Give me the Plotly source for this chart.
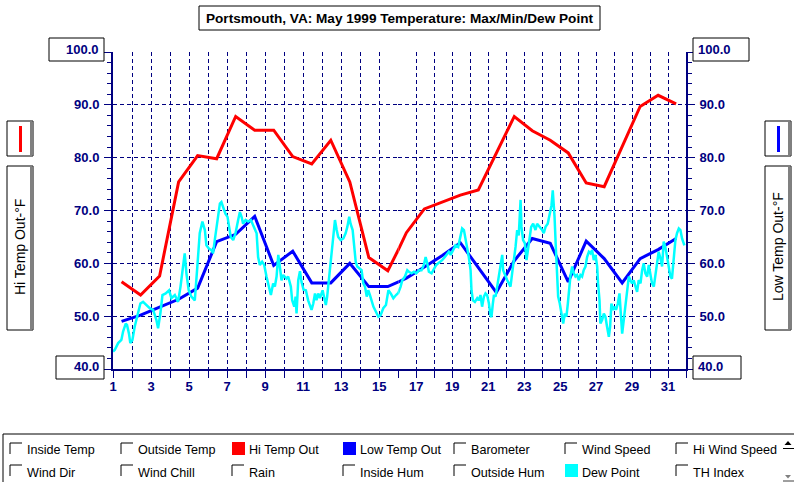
import plotly.graph_objects as go

# ---------------- data ----------------
days = list(range(1, 32))
hi_temp = [56.5, 54.0, 57.6, 75.4, 80.4, 79.8, 87.8, 85.2, 85.2, 80.2,
           78.8, 83.3, 75.4, 61.1, 58.6, 65.8, 70.3, 71.6, 72.9, 73.9,
           80.8, 87.8, 85.1, 83.3, 80.9, 75.2, 74.5, 82.1, 89.7, 91.8, 90.2]
low_temp = [49.0, 50.2, 51.7, 53.2, 55.3, 64.1, 65.5, 68.9, 59.6, 62.3,
            56.3, 56.3, 60.0, 55.6, 55.6, 57.2, 59.3, 61.5, 63.9, 59.2,
            54.5, 60.5, 64.7, 63.8, 56.5, 64.2, 60.9, 56.3, 60.9, 62.6, 64.7]
dew_day = [1.00, 1.09, 1.27, 1.44, 1.53, 1.67, 1.74, 1.84, 1.91, 2.02, 2.14, 2.32, 2.44, 2.58, 2.76, 2.93,
           3.11, 3.28, 3.37, 3.49, 3.60, 3.77, 3.95, 4.07, 4.25, 4.42, 4.55, 4.69, 4.77, 4.86, 4.98,
           5.12, 5.30, 5.42, 5.56, 5.70, 5.83, 5.91, 6.04, 6.18, 6.26, 6.35, 6.49, 6.62, 6.70, 6.79, 6.91,
           7.02, 7.09, 7.19, 7.32, 7.44, 7.58, 7.67, 7.76, 7.84, 7.97, 8.11, 8.25, 8.37, 8.46, 8.55,
           8.63, 8.72, 8.84, 8.95, 9.07, 9.16, 9.30, 9.42, 9.51, 9.60, 9.69, 9.77, 9.86, 9.95,
           10.12, 10.21, 10.35, 10.42, 10.53, 10.60, 10.65, 10.74, 10.83, 10.91, 11.02, 11.14, 11.26,
           11.44, 11.53, 11.62, 11.70, 11.79, 11.88, 12.02, 12.09, 12.19, 12.26, 12.37, 12.49, 12.58,
           12.67, 12.76, 12.84, 12.97, 13.11, 13.23, 13.32, 13.42, 13.49, 13.60, 13.67, 13.76, 13.84,
           13.95, 14.07, 14.16, 14.25, 14.34, 14.42, 14.51, 14.60, 14.69, 14.83, 14.95, 15.07, 15.21,
           15.35, 15.48, 15.60, 15.74, 15.88, 16.00, 16.13, 16.22, 16.37, 16.50, 16.59, 16.74, 16.87,
           17.00, 17.15, 17.29, 17.42, 17.52, 17.61, 17.70, 17.85, 17.98, 18.11, 18.22, 18.35, 18.44,
           18.59, 18.72, 18.81, 18.91, 19.00, 19.09, 19.18, 19.33, 19.46, 19.55, 19.65, 19.74, 19.83,
           19.92, 20.02, 20.07, 20.15, 20.26, 20.39, 20.48, 20.57, 20.66, 20.76, 20.85, 20.94, 21.04,
           21.12, 21.18, 21.26, 21.32, 21.41, 21.50, 21.59, 21.69, 21.78, 21.83, 21.96, 22.06, 22.15,
           22.24, 22.33, 22.43, 22.52, 22.61, 22.70, 22.80, 22.85, 22.94, 23.04, 23.13, 23.20, 23.31,
           23.39, 23.50, 23.63, 23.72, 23.87, 24.00, 24.09, 24.19, 24.31, 24.43, 24.52, 24.59, 24.69,
           24.76, 24.83, 24.89, 24.98, 25.07, 25.17, 25.26, 25.35, 25.43, 25.50, 25.57, 25.67, 25.76,
           25.85, 25.94, 26.04, 26.13, 26.22, 26.31, 26.41, 26.50, 26.60, 26.69, 26.78, 26.87, 26.97,
           27.06, 27.11, 27.19, 27.24, 27.34, 27.43, 27.52, 27.61, 27.71, 27.78, 27.85, 27.95, 28.04,
           28.11, 28.21, 28.30, 28.37, 28.45, 28.54, 28.63, 28.72, 28.82, 28.91, 29.00, 29.09, 29.19,
           29.28, 29.37, 29.47, 29.56, 29.65, 29.74, 29.84, 29.93, 30.02, 30.11, 30.21, 30.30, 30.39,
           30.48, 30.58, 30.67, 30.76, 30.85, 30.95, 31.04, 31.13, 31.22, 31.32, 31.41, 31.50, 31.60,
           31.69, 31.78, 31.91]
dew_val = [43.3, 43.6, 44.9, 45.5, 47.1, 48.6, 48.3, 46.7, 44.9, 45.5, 48.0, 50.5, 52.4, 52.7, 52.1, 51.5,
           51.2, 49.3, 47.7, 50.5, 54.0, 54.3, 54.9, 53.4, 54.0, 52.7, 55.6, 59.4, 61.9, 58.1, 54.9,
           53.7, 53.0, 58.7, 65.7, 67.9, 66.3, 63.4, 62.8, 62.5, 61.9, 64.4, 68.2, 71.3, 71.6, 70.7, 69.4,
           68.8, 66.9, 65.0, 64.4, 65.7, 68.2, 69.7, 68.8, 67.5, 68.2, 67.9, 68.2, 67.2, 66.3, 65.7,
           61.2, 59.7, 60.3, 59.7, 57.5, 56.2, 54.0, 56.2, 55.6, 57.5, 61.6, 59.4, 56.8, 57.8,
           57.1, 57.5, 55.6, 53.0, 51.8, 53.7, 50.5, 56.8, 58.5, 56.5, 55.0, 54.9, 53.0,
           51.2, 52.4, 54.3, 53.0, 54.3, 53.4, 54.9, 53.7, 52.1, 53.7, 57.5, 61.2, 63.8,
           68.2, 66.3, 65.0, 64.4, 64.7, 65.7, 66.9, 68.8, 67.5, 66.3, 63.1, 60.3, 59.4,
           59.0, 58.7, 56.2, 55.6, 53.7, 54.9, 54.0, 53.0, 51.8, 50.8, 49.9, 50.2, 51.5,
           52.1, 54.9, 54.3, 53.4, 54.0, 54.4, 55.6, 56.8, 57.5, 58.7, 58.4, 58.1, 58.4,
           58.1, 58.7, 58.7, 59.7, 61.2, 60.0, 58.4, 58.1, 59.0, 59.7, 60.0, 60.3, 60.6,
           61.2, 61.9, 62.2, 61.6, 62.2, 63.1, 63.4, 63.1, 65.3, 66.6, 66.3, 64.7, 63.1,
           61.2, 58.7, 54.9, 53.0, 52.7, 53.4, 53.0, 54.0, 51.8, 53.7, 54.3, 54.0, 52.4,
           50.3, 49.8, 52.4, 54.0, 53.7, 55.6, 56.8, 59.4, 61.6, 58.7, 57.5, 56.8, 56.2,
           55.6, 58.1, 60.6, 63.1, 66.3, 65.3, 72.0, 66.9, 64.4, 63.8, 60.6, 62.5, 64.4,
           66.9, 67.5, 66.3, 67.5, 66.9, 66.3, 65.7, 66.9, 67.5, 69.4, 71.0, 73.8, 68.8,
           63.1, 58.7, 53.7, 52.4, 50.5, 48.6, 50.5, 49.9, 52.4, 54.9, 57.5, 59.4, 58.1,
           57.5, 57.8, 56.8, 57.8, 57.5, 58.7, 59.4, 61.2, 62.2, 61.9, 62.5, 60.6, 61.6,
           59.4, 56.2, 53.0, 48.6, 49.3, 50.5, 49.9, 48.0, 46.1, 48.0, 52.4, 51.2, 51.8,
           51.2, 52.4, 54.3, 50.5, 46.7, 49.3, 51.8, 54.3, 57.5, 56.8, 56.2, 56.8, 55.6,
           54.6, 56.8, 56.2, 58.7, 60.0, 58.1, 57.5, 59.7, 57.5, 56.2, 55.6, 58.1, 60.6,
           62.2, 60.9, 59.4, 64.1, 63.1, 61.2, 59.4, 57.5, 57.1, 61.9, 64.4, 65.7, 66.6,
           66.3, 64.7, 63.4]
x_ticks = list(range(1, 33))
x_labels = [str(d) if d % 2 == 1 and d < 32 else "" for d in x_ticks]
y_ticks = [40, 50, 60, 70, 80, 90, 100]
y_labels = ["", "50.0", "60.0", "70.0", "80.0", "90.0", ""]
y_minor = [v for v in range(42, 100, 2) if v % 10 != 0]
title_text = "Portsmouth, VA: May 1999 Temperature: Max/Min/Dew Point"
left_label = "Hi Temp Out-°F"
right_label = "Low Temp Out-°F"
legend_row1 = ["Inside Temp", "Outside Temp", "Hi Temp Out", "Low Temp Out",
               "Barometer", "Wind Speed", "Hi Wind Speed"]
legend_row2 = ["Wind Dir", "Wind Chill", "Rain", "Inside Hum",
               "Outside Hum", "Dew Point", "TH Index"]
legend_colors = {"Hi Temp Out": "#FF0000", "Low Temp Out": "#0000FF", "Dew Point": "#00FFFF"}

# ---------------- layout helpers ----------------
W, H = 794, 482
L, R, T, B = 113, 686, 52, 369
SPLIT = 398.3           # pixel position of day 16 (grid is 19px/day left, 18px/day right)
NAVY = "#000080"
FONT = "Liberation Sans, Arial, sans-serif"


def px(x):
    return (x - L) / (R - L)


def py(y):
    return (B - y) / (B - T)


dsplit = px(SPLIT)
day_pos = [d + 0.45 for d in days]

fig = go.Figure()
series = [(day_pos, hi_temp, "#FF0000", 3),
          (day_pos, low_temp, "#0000FF", 3),
          (dew_day, dew_val, "#00FFFF", 2.5)]
for xa, ya in [("x", "y"), ("x2", "y2")]:
    for xs, ys, col, w in series:
        fig.add_trace(go.Scatter(x=xs, y=ys, mode="lines", xaxis=xa, yaxis=ya,
                                 line=dict(color=col, width=w), showlegend=False,
                                 hoverinfo="skip"))

tickfont = dict(family=FONT, size=13, color=NAVY, weight="bold")
common_x = dict(showline=True, linecolor=NAVY, linewidth=2, ticks="outside", ticklen=7,
                tickcolor=NAVY, tickwidth=1, showgrid=True, gridcolor=NAVY, gridwidth=1,
                griddash="4px,3px", zeroline=False, tickfont=tickfont, tickmode="array",
                fixedrange=True)
common_y = dict(showline=True, linecolor=NAVY, linewidth=2, ticks="outside", ticklen=7,
                tickcolor=NAVY, tickwidth=1, showgrid=True, gridcolor=NAVY, gridwidth=1,
                griddash="4px,3px", zeroline=False, tickfont=tickfont, tickmode="array",
                tickvals=y_ticks, ticktext=y_labels, range=[40, 100], domain=[0, 1],
                minor=dict(tickmode="array", tickvals=y_minor, ticks="outside", ticklen=4,
                           tickcolor=NAVY, showgrid=False),
                fixedrange=True)

fig.update_layout(
    width=W, height=H, autosize=False,
    margin=dict(l=L, r=W - R, t=T, b=H - B, pad=0),
    paper_bgcolor="white", plot_bgcolor="white",
    showlegend=False,
    xaxis=dict(domain=[0, dsplit], range=[1, 16], tickvals=x_ticks[:16],
               ticktext=x_labels[:16], anchor="y", ticklabelstandoff=-3, **common_x),
    xaxis2=dict(domain=[dsplit, 1], range=[16, 32], tickvals=x_ticks[15:],
                ticktext=x_labels[15:], anchor="y2", ticklabelstandoff=-3, **common_x),
    yaxis=dict(anchor="x", side="left", ticklabelstandoff=2, **common_y),
    yaxis2=dict(anchor="x2", side="right", ticklabelstandoff=2, **common_y),
)

shapes = []
annotations = []


def rect(x0, y0, x1, y1, line="black", fill="white", lw=1):
    shapes.append(dict(type="rect", xref="paper", yref="paper",
                       x0=px(x0), x1=px(x1), y0=py(y1), y1=py(y0),
                       line=dict(color=line, width=lw) if line else dict(width=0),
                       fillcolor=fill, layer="above"))


def hline(x0, x1, y, color="black", lw=1):
    shapes.append(dict(type="line", xref="paper", yref="paper", x0=px(x0), x1=px(x1),
                       y0=py(y), y1=py(y), line=dict(color=color, width=lw)))


def vline(x, y0, y1, color="black", lw=1):
    shapes.append(dict(type="line", xref="paper", yref="paper", x0=px(x), x1=px(x),
                       y0=py(y0), y1=py(y1), line=dict(color=color, width=lw)))


def text(x, y, s, size=13, color="black", bold=False, xanchor="center", angle=0):
    annotations.append(dict(xref="paper", yref="paper", x=px(x), y=py(y), text=s,
                            showarrow=False, xanchor=xanchor, yanchor="middle",
                            textangle=angle,
                            font=dict(family=FONT, size=size, color=color,
                                      weight="bold" if bold else "normal")))


# title box
rect(199, 6, 600, 30)
text(399.5, 18.5, title_text, size=13.6, bold=True)

# boxed end labels
rect(49, 38, 104, 61)
text(101, 49.5, "100.0", color=NAVY, bold=True, xanchor="right")
rect(56, 356, 104, 379)
text(101, 366.5, "40.0", color=NAVY, bold=True, xanchor="right")
rect(693, 38, 749, 61)
text(696, 49.5, "100.0", color=NAVY, bold=True, xanchor="left")
rect(693, 356, 741, 379)
text(696, 366.5, "40.0", color=NAVY, bold=True, xanchor="left")

# side panels (series key + rotated axis titles)
for bx, col, lab, tx in [(7, "#FF0000", left_label, 20), (765, "#0000FF", right_label, 778)]:
    rect(bx, 121, bx + 26, 156)
    rect(bx + 23, 121.5, bx + 26, 155.5, line=None, fill="#808080")
    rect(bx + 12, 126, bx + 15, 152, line=None, fill=col)
    rect(bx, 166, bx + 26, 330)
    rect(bx + 23, 166.5, bx + 26, 329.5, line=None, fill="#808080")
    text(tx, 247, lab, size=14, angle=-90)

# bottom checkbox legend
hline(3, 800, 434)
vline(3, 434, 490)
for row, yc, labels in [(0, 450, legend_row1), (1, 472.5, legend_row2)]:
    for i, lab in enumerate(labels):
        cx = 10 + 111 * i
        ytop = 443 if row == 0 else 465
        if lab in legend_colors:
            rect(cx, ytop - 1, cx + 13, ytop + 12, line=None, fill=legend_colors[lab])
        else:
            hline(cx, cx + 12, ytop)
            vline(cx, ytop, ytop + 11)
        text(cx + 14.5, yc, lab, size=12.6, xanchor="left")

# scroll arrows at right of legend
shapes.append(dict(type="path", xref="paper", yref="paper", fillcolor="black",
                   line=dict(width=0),
                   path=f"M {px(784.5)} {py(445)} L {px(791.5)} {py(445)} L {px(788)} {py(441)} Z"))
hline(783, 794, 448.5)
shapes.append(dict(type="path", xref="paper", yref="paper", fillcolor="#808080",
                   line=dict(width=0),
                   path=f"M {px(785)} {py(475)} L {px(791)} {py(475)} L {px(788)} {py(478.5)} Z"))
hline(783, 794, 481, color="#404040")

fig.update_layout(shapes=shapes, annotations=annotations)
fig.write_html("out.html", config={"displayModeBar": False},
               post_script="document.body.style.margin='0px';document.body.style.overflow='hidden';")
